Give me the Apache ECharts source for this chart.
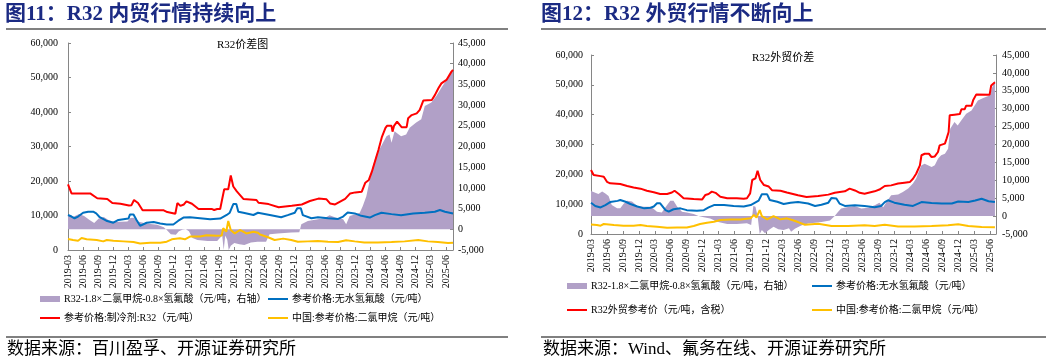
<!DOCTYPE html>
<html><head><meta charset="utf-8">
<script src="https://cdn.jsdelivr.net/npm/echarts@6/dist/echarts.min.js"></script>
<style>html,body{margin:0;padding:0;background:#fff}#c{width:1057px;height:363px}</style>
</head><body><div id="c"></div>
<script>
// x values: months since 2019-03 (0 = 2019-03)
const tickLabels = ['2019-03','2019-06','2019-09','2019-12','2020-03','2020-06','2020-09','2020-12','2021-03','2021-06','2021-09','2021-12','2022-03','2022-06','2022-09','2022-12','2023-03','2023-06','2023-09','2023-12','2024-03','2024-06','2024-09','2024-12','2025-03','2025-06'];

const nameSpread = 'R32-1.8×二氯甲烷-0.8×氢氟酸（元/吨，右轴）';
const nameHF = '参考价格:无水氢氟酸（元/吨）';
const nameDomR32 = '参考价格:制冷剂:R32（元/吨）';
const nameForR32 = 'R32外贸参考价（元/吨，含税）';
const nameDCM = '中国:参考价格:二氯甲烷（元/吨）';

// ---- Figure 11: domestic ----
const domR32 = [[0,19000],[0.7,16400],[4.4,16400],[5.8,15000],[7.8,14800],[8.8,13600],[10.4,13400],[12.1,12900],[12.6,13000],[13.1,14500],[13.9,13600],[14.8,11500],[19,11500],[19.7,11000],[21.3,10500],[21.7,13600],[22.3,12800],[23.0,13200],[23.5,14100],[24.6,13400],[25.9,11900],[28.5,11900],[29,11600],[29.6,11900],[30.2,11900],[30.6,14800],[31.0,17600],[31.8,17600],[32.3,21600],[32.8,18400],[33.5,17000],[34.1,16000],[34.8,14800],[37.4,14500],[37.8,13700],[39.8,13300],[41.8,12400],[44.4,12850],[46.4,13200],[48.0,14200],[49.7,14900],[51.3,14700],[52.0,13500],[53.0,13200],[55.0,14800],[56.0,16400],[57.0,16700],[58.3,16900],[59.0,19500],[59.7,20300],[60.3,22700],[61.0,26100],[61.6,29000],[62.3,32800],[63.0,35400],[63.3,36000],[64.2,36000],[64.4,34300],[64.7,36000],[65.3,37200],[66.2,35600],[67.2,35600],[67.5,38200],[68.2,39100],[69.2,39600],[69.8,40600],[70.5,43300],[72.2,43500],[72.8,44900],[73.5,46900],[74.1,48300],[75.1,49300],[76.1,51700],[76.4,52200]];
const domHF = [[0,10150],[0.7,9700],[1.3,9200],[2.0,9700],[3.0,10800],[4.0,11100],[5.0,11100],[5.6,10600],[6.3,9500],[7.6,8500],[9.0,7900],[10.0,8700],[11.0,8900],[12.0,9100],[12.3,10300],[13.0,10300],[13.6,8700],[14.3,7000],[15.6,7900],[17.0,8100],[18.3,7700],[19.6,7400],[20.9,7400],[21.9,8500],[22.9,9400],[24.2,9500],[26.2,9200],[28.2,8900],[30.2,9100],[31.5,10150],[32.1,10800],[32.8,13300],[33.4,13300],[33.8,11100],[34.8,10800],[36.8,10150],[37.7,10800],[40.3,10100],[42.3,9500],[43.6,10100],[45.0,10800],[45.5,12100],[46.2,12100],[46.6,10100],[48.3,9200],[49.6,9500],[51.6,9200],[53.6,9000],[54.6,9700],[55.5,10900],[56.9,10600],[58.2,9900],[59.9,9400],[60.9,10100],[62.2,10800],[64.2,10400],[66.1,10050],[68.5,10600],[70.8,10800],[72.8,11100],[73.8,11600],[74.8,11100],[76.4,10600]];
const domDCM = [[0,3200],[1.0,2900],[2.0,2700],[2.7,3500],[3.7,3100],[5.7,2900],[7.0,2500],[7.7,2900],[9.0,2700],[11.0,2500],[13.0,2300],[14.3,1900],[16.3,2100],[18.3,2100],[19.6,2400],[20.6,3100],[22.2,3400],[23.2,3100],[24.2,3900],[26.2,3900],[27.5,4250],[29.5,4100],[30.5,4200],[30.8,6300],[31.4,5300],[31.8,8400],[32.3,5800],[33.1,4800],[34.1,5800],[35.4,4800],[36.8,5300],[37.7,5000],[38.1,4500],[39.7,3700],[41.0,2900],[42.7,3300],[44.3,2900],[45.6,2400],[47.6,2500],[49.6,2600],[51.6,2400],[53.6,2300],[55.2,2800],[56.9,2500],[58.8,2200],[61.5,2200],[64.2,2300],[66.8,2500],[69.5,2900],[71.4,2500],[73.4,2300],[75.4,2000],[76.4,2100]];
const domSpread = [[0,3500],[0.9,3000],[1.5,3300],[2.2,3700],[3.2,3200],[4.2,2300],[5.2,1500],[6.1,2600],[7.1,2950],[8.1,2200],[9.1,1800],[10.4,1800],[11.8,1900],[12.4,2700],[13.1,2800],[13.8,1900],[15.1,1500],[16.4,1300],[17.7,1100],[19.0,500],[19.7,-300],[20.4,-1200],[21.4,-1300],[22.0,-500],[22.7,-100],[23.4,0],[24.0,-500],[24.7,-2100],[25.7,-2600],[27.7,-2800],[29.6,-2800],[30.6,-1500],[30.9,-5000],[31.2,-1500],[31.6,-2500],[31.9,-5000],[32.3,-4000],[33.0,-3300],[34.0,-3600],[35.0,-3800],[36.3,-3200],[37.6,-3000],[39.3,-3000],[40.0,-1200],[41.6,-1000],[44.3,-800],[45.9,-700],[46.3,1200],[47.6,2000],[49.6,2400],[50.9,2650],[51.9,3400],[53.2,2800],[54.6,2400],[55.2,1200],[55.9,3200],[56.9,3600],[57.9,4000],[58.5,5600],[59.2,8000],[59.9,12000],[60.5,15300],[61.2,18100],[61.8,19300],[62.5,20900],[63.2,22500],[63.8,22900],[64.2,20900],[64.8,23700],[65.5,23000],[66.1,22500],[67.1,22900],[67.8,24500],[69.1,25800],[70.1,26600],[70.8,29800],[72.1,30600],[73.1,32200],[74.1,34200],[75.4,36600],[76.4,38600]];

// ---- Figure 12: export ----
const forR32 = [[0,21450],[0.5,19800],[1.8,19400],[2.4,19200],[3.0,17500],[3.6,17000],[5.5,16750],[6.8,16100],[8.0,15600],[9.3,15200],[10.5,14500],[11.8,14000],[13.0,13400],[14.3,13400],[15.2,13900],[15.7,14500],[16.5,13400],[17.4,12000],[19.3,11700],[20.9,11600],[21.2,11200],[21.5,13100],[22.1,13400],[22.7,14200],[23.4,13800],[24.3,12500],[25.6,12000],[27.4,12000],[28.7,11800],[29.3,12000],[29.9,13600],[30.3,18100],[30.9,18650],[31.3,21200],[31.8,18100],[32.5,16400],[33.4,15900],[34.0,14700],[35.6,14500],[36.8,13900],[37.0,13500],[38.9,13000],[40.5,12400],[42.7,12700],[44.6,13200],[45.8,13850],[47.7,14300],[48.6,15200],[49.6,14600],[50.5,13800],[51.4,13500],[53.3,14300],[54.2,14900],[55.2,16100],[56.4,16300],[57.7,16900],[58.9,17200],[59.9,17400],[60.5,18500],[61.1,20200],[61.8,23000],[62.1,26400],[62.7,26900],[63.5,26900],[64.0,25800],[64.6,26000],[65.2,27500],[65.5,29700],[66.5,30300],[66.8,31900],[67.2,34200],[67.4,39800],[68.3,40000],[69.3,40200],[69.6,41800],[70.2,41800],[70.5,43000],[71.5,43000],[71.8,44800],[72.4,46800],[74.9,46700],[75.2,49800],[75.9,50900]];
const forHF = [[0,10500],[0.8,9400],[1.8,8900],[2.7,9700],[3.6,10700],[5.0,11100],[5.5,11400],[6.5,10800],[7.4,10050],[8.7,9200],[10.0,8600],[11.2,8800],[11.8,9200],[12.4,10300],[13.0,10300],[14.0,8000],[14.6,7500],[15.5,8300],[16.8,8600],[18.0,8000],[19.9,7800],[21.2,8000],[22.1,8900],[23.1,9700],[25.0,9700],[26.8,9400],[28.7,9200],[30.0,9700],[31.5,11200],[32.1,13300],[33.1,13300],[33.6,11400],[35.0,10800],[36.2,10050],[37.5,10500],[38.9,10700],[40.8,10200],[42.1,9400],[43.3,9800],[44.6,10500],[45.2,12100],[46.1,11900],[46.7,10200],[47.7,9400],[49.6,9600],[51.4,9400],[53.3,9000],[54.5,9400],[55.2,10700],[55.8,11300],[57.0,10500],[58.9,9800],[60.5,9400],[62.1,10700],[64.0,10400],[65.9,10200],[67.8,10200],[69.0,10900],[70.9,10700],[72.2,11200],[73.4,11800],[74.7,11000],[75.9,10700]];
const forDCM = [[0,3200],[1.1,3000],[1.8,2800],[2.4,3350],[4.3,3000],[6.1,2800],[8.0,2800],[9.3,3000],[10.5,2700],[12.4,2450],[14.3,2100],[16.2,2200],[18.0,2200],[19.3,2700],[20.5,3350],[21.8,3800],[23.1,4100],[24.3,4700],[26.2,4900],[28.1,4900],[30.0,5250],[30.6,6400],[31.1,5500],[31.7,8000],[32.1,6000],[33.1,4900],[34.3,6000],[35.6,4900],[36.8,5250],[37.0,5350],[37.8,4700],[38.9,4000],[40.2,3100],[42.7,3450],[45.2,2700],[48.3,2700],[51.4,2900],[53.3,2700],[55.2,3100],[57.7,2550],[60.8,2550],[64.0,2700],[67.1,2900],[69.0,3250],[70.9,2700],[73.4,2350],[75.9,2250]];
const forSpread = [[0,7000],[0.8,6500],[1.4,6200],[2.1,6900],[2.7,6300],[3.3,5600],[3.9,3100],[4.9,2200],[5.5,2200],[6.1,3400],[6.8,4300],[7.7,4100],[8.7,2800],[10.0,2600],[11.2,2600],[11.8,2000],[12.4,1250],[13.3,1000],[14.3,3100],[14.9,4300],[15.5,4300],[16.2,2600],[17.1,1250],[18.0,1000],[19.3,600],[20.2,0],[21.2,-350],[22.4,-650],[23.7,-1550],[25.6,-2200],[27.4,-2200],[29.3,-2000],[30.1,-2500],[30.5,2800],[30.9,2600],[31.3,0],[31.7,-5000],[32.1,-3900],[32.7,-4800],[33.4,-3900],[34.3,-3000],[35.2,-3700],[36.2,-3900],[37.2,-3400],[37.6,-4400],[38.3,-3500],[39.5,-2600],[40.8,-2100],[42.1,-1850],[43.3,-1650],[44.9,-1200],[45.8,0],[46.4,1150],[47.0,2100],[48.3,2550],[49.5,2800],[50.8,2100],[52.1,2300],[53.3,3000],[54.2,3750],[54.9,2500],[55.5,3900],[56.4,5800],[57.7,6000],[58.6,6700],[59.6,7700],[60.5,9100],[61.1,10500],[61.8,13250],[62.1,14200],[62.7,14650],[63.3,14200],[64.0,13700],[64.6,14200],[65.2,16000],[65.8,17000],[66.5,17400],[67.1,18800],[67.5,24400],[68.3,26300],[68.9,25300],[69.6,26800],[70.5,28600],[71.5,29500],[72.1,30900],[72.7,32300],[73.7,33000],[74.9,33700],[75.3,35600],[75.9,37900]];

const C_PURPLE = '#B1A0C7', C_BLUE = '#0070C0', C_RED = '#FF0000', C_YEL = '#FFC000';
const FONT = '"Liberation Serif", "Noto Sans CJK SC", serif';
const CJK = '"Liberation Serif", "Noto Sans CJK SC", sans-serif';

const chart = echarts.init(document.getElementById('c'), null, {renderer: 'canvas'});

function fmtMonth(v) {
  const i = Math.round(v / 3);
  if (Math.abs(v - i * 3) > 1e-6) return '';
  return tickLabels[i] || '';
}
function fmtNum(v) { return v.toLocaleString('en-US'); }

function xAxis(g, max) {
  return {
    type: 'value', gridIndex: g, min: 0, max: max, interval: 3,
    axisLine: {lineStyle: {color: '#868686', width: 1}},
    axisTick: {inside: true, length: 3, lineStyle: {color: '#868686'}},
    axisLabel: {rotate: 90, fontSize: 10, margin: 5, color: '#000', fontFamily: FONT,
      showMaxLabel: false, formatter: fmtMonth},
    splitLine: {show: false}
  };
}
function yAxis(g, pos, min, max, interval, margin) {
  return {
    type: 'value', gridIndex: g, position: pos, min: min, max: max, interval: interval,
    axisLine: {show: true, lineStyle: {color: '#868686', width: 1}},
    axisTick: {show: true, inside: true, length: 3, lineStyle: {color: '#868686'}},
    axisLabel: {fontSize: 10, color: '#000', fontFamily: FONT, margin: margin, formatter: fmtNum},
    splitLine: {show: false}
  };
}
function area(name, data, xi, yi) {
  return {name, type: 'line', xAxisIndex: xi, yAxisIndex: yi, data, symbol: 'none',
    lineStyle: {width: 0}, itemStyle: {color: C_PURPLE}, color: C_PURPLE,
    areaStyle: {color: C_PURPLE, opacity: 1}, z: 1, silent: true};
}
function line(name, data, xi, yi, color) {
  return {name, type: 'line', xAxisIndex: xi, yAxisIndex: yi, data, symbol: 'none',
    lineStyle: {width: 2, color}, itemStyle: {color}, color, z: 3, silent: true};
}
function leg(name, left, top, h) {
  return {data: [name], left, top, icon: 'rect', itemWidth: 20, itemHeight: h, padding: 0,
    itemGap: 0, selectedMode: false,
    textStyle: {fontSize: 10, color: '#000', fontFamily: CJK, padding: [0, 0, 0, -1]}};
}

const option = {
  animation: false,
  backgroundColor: '#fff',
  grid: [
    {left: 68, top: 43, width: 385, height: 207},
    {left: 591, top: 55, width: 405, height: 179}
  ],
  xAxis: [xAxis(0, 76.4), xAxis(1, 76.1)],
  yAxis: [
    yAxis(0, 'left', 0, 60000, 10000, 10),
    yAxis(0, 'right', -5000, 45000, 5000, 5),
    yAxis(1, 'left', 0, 60000, 10000, 8),
    yAxis(1, 'right', -5000, 45000, 5000, 6)
  ],
  legend: [
    leg(nameSpread, 40, 294, 6),
    leg(nameHF, 268, 294, 2),
    leg(nameDomR32, 40, 313, 2),
    leg(nameDCM, 268, 313, 2),
    leg(nameSpread, 567, 281, 6),
    leg(nameHF, 812, 281, 2),
    leg(nameForR32, 567, 305, 2),
    leg(nameDCM, 812, 305, 2)
  ],
  series: [
    area(nameSpread, domSpread, 0, 1),
    line(nameHF, domHF, 0, 0, C_BLUE),
    line(nameDomR32, domR32, 0, 0, C_RED),
    line(nameDCM, domDCM, 0, 0, C_YEL),
    area(nameSpread, forSpread, 1, 3),
    line(nameHF, forHF, 1, 2, C_BLUE),
    line(nameForR32, forR32, 1, 2, C_RED),
    line(nameDCM, forDCM, 1, 2, C_YEL)
  ],
  graphic: [
    {type: 'text', left: 5, top: 4, style: {text: '图11：R32 内贸行情持续向上', fontSize: 21, fontWeight: 'bold', fill: '#1B2A83', fontFamily: FONT}},
    {type: 'text', left: 541, top: 4, style: {text: '图12：R32 外贸行情不断向上', fontSize: 21, fontWeight: 'bold', fill: '#1B2A83', fontFamily: FONT}},
    {type: 'line', shape: {x1: 6, y1: 29, x2: 508, y2: 29}, style: {stroke: '#808080', lineWidth: 2}},
    {type: 'line', shape: {x1: 541, y1: 29, x2: 1046, y2: 29}, style: {stroke: '#808080', lineWidth: 2}},
    {type: 'line', shape: {x1: 6, y1: 337, x2: 508, y2: 337}, style: {stroke: '#808080', lineWidth: 2}},
    {type: 'line', shape: {x1: 541, y1: 337, x2: 1046, y2: 337}, style: {stroke: '#808080', lineWidth: 2}},
    {type: 'text', left: 7, top: 341, style: {text: '数据来源：百川盈孚、开源证券研究所', fontSize: 17, fill: '#000', fontFamily: CJK}},
    {type: 'text', left: 543, top: 341, style: {text: '数据来源：Wind、氟务在线、开源证券研究所', fontSize: 17, fill: '#000', fontFamily: CJK}},
    {type: 'text', left: 217, top: 40, style: {text: 'R32价差图', fontSize: 11, fill: '#000', fontFamily: CJK}},
    {type: 'text', left: 752, top: 53, style: {text: 'R32外贸价差', fontSize: 11, fill: '#000', fontFamily: CJK}}
  ]
};
chart.setOption(option);
</script>
</body></html>
